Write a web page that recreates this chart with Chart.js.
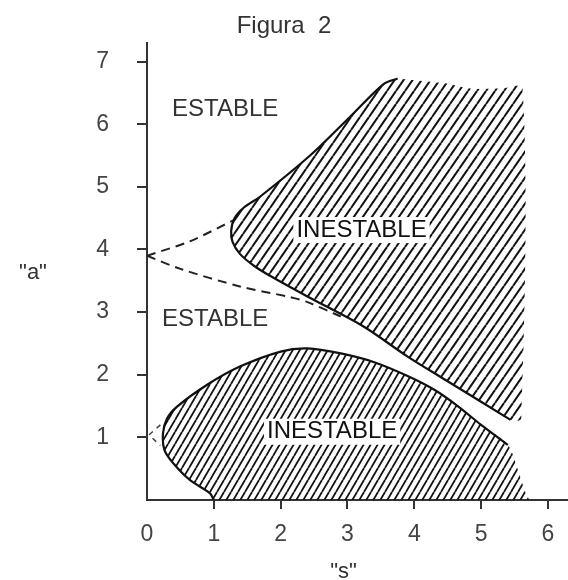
<!DOCTYPE html>
<html>
<head>
<meta charset="utf-8">
<script src="https://cdn.jsdelivr.net/npm/chart.js@4.4.0/dist/chart.umd.min.js"></script>
<style>
  html, body { margin: 0; padding: 0; background: #fff; }
</style>
</head>
<body>
<canvas id="myChart" width="568" height="580"></canvas>
<script>
// axis ticks (the a axis has no 0 label)
const sTicks = [0, 1, 2, 3, 4, 5, 6];
const aTicks = [1, 2, 3, 4, 5, 6, 7];

// upper unstable zone: slanted edge down to the nose, lower edge, then right and top sides
const upperZoneS = [3.75, 3.54, 3.04, 2.44, 1.7, 1.45, 1.31, 1.26, 1.28, 1.39, 1.6, 1.84, 2.4, 3.24, 3.9, 4.4, 5.44, 5.6, 5.62, 5.29, 4.84, 4.49];
const upperZoneA = [6.73, 6.64, 6.12, 5.5, 4.85, 4.67, 4.5, 4.3, 4.12, 3.93, 3.74, 3.58, 3.25, 2.77, 2.29, 1.96, 1.28, 1.3, 6.57, 6.57, 6.57, 6.65];
const upperEdgeCount = 17;

// lower unstable zone: from (1,0) round the nose, over the hump, down to the axis
const lowerZoneS = [1.0, 0.94, 0.64, 0.39, 0.26, 0.24, 0.3, 0.45, 0.9, 1.39, 2.0, 2.4, 2.9, 3.4, 3.9, 4.3, 4.65, 5.0, 5.4, 5.55, 5.65, 5.72];
const lowerZoneA = [0, 0.11, 0.32, 0.59, 0.8, 1.07, 1.3, 1.49, 1.84, 2.13, 2.37, 2.42, 2.34, 2.2, 1.98, 1.76, 1.5, 1.2, 0.88, 0.48, 0.16, 0];
const lowerEdgeCount = 19;

// dashed branches
const dashTopS = [0, 0.64, 1.3];
const dashTopA = [3.9, 4.13, 4.47];
const dashLowS = [0, 0.5, 1.39, 2.14, 2.4, 2.9];
const dashLowA = [3.9, 3.69, 3.41, 3.24, 3.16, 2.93];
const dashSmallS = [0.2, 0.03, 0.2];
const dashSmallA = [1.2, 1.04, 0.87];

// zone names
const zoneNames = ['ESTABLE', 'ESTABLE', 'INESTABLE', 'INESTABLE'];
const zoneS = [1.17, 1.02, 3.21, 2.77];
const zoneA = [6.24, 2.88, 4.31, 1.09];

const FONT = '"Liberation Sans", Arial, sans-serif';
Chart.defaults.font.family = FONT;

const pts = (xs, ys) => xs.map((x, i) => ({ x: x, y: ys[i] }));

var ctx = document.getElementById('myChart').getContext('2d');

// diagonal hatching, w x h tile gives the slant
function hatch(w, h, lw) {
  const c = document.createElement('canvas');
  c.width = w; c.height = h;
  const g = c.getContext('2d');
  g.strokeStyle = '#111';
  g.lineWidth = lw;
  for (const dx of [-w, 0, w]) {
    g.beginPath();
    g.moveTo(dx, h);
    g.lineTo(dx + w, 0);
    g.stroke();
  }
  return ctx.createPattern(c, 'repeat');
}

const noLine = 'rgba(0,0,0,0)';
const tickColor = c => (c.tick && c.tick.value === 0) ? noLine : '#333';

const zoneLabels = {
  id: 'zoneLabels',
  afterDatasetsDraw(chart) {
    const { ctx, chartArea, scales: { x, y } } = chart;
    ctx.save();
    ctx.textAlign = 'center';
    ctx.textBaseline = 'middle';
    ctx.font = '24px ' + FONT;
    zoneNames.forEach((t, i) => {
      const px = x.getPixelForValue(zoneS[i]);
      const py = y.getPixelForValue(zoneA[i]);
      if (t === 'INESTABLE') {
        const w = ctx.measureText(t).width + 6;
        ctx.fillStyle = '#fff';
        ctx.fillRect(px - w / 2, py - 13, w, 26);
        ctx.fillStyle = '#111';
      } else {
        ctx.fillStyle = '#333';
      }
      ctx.fillText(t, px, py);
    });
    // axis names
    ctx.fillStyle = '#333';
    ctx.font = '22px ' + FONT;
    ctx.fillText('"a"', chartArea.left - 114, y.getPixelForValue(3.63));
    ctx.fillText('"s"', x.getPixelForValue(2.94), chartArea.bottom + 72);
    ctx.restore();
  }
};

var chart = new Chart(ctx, {
  type: 'line',
  data: {
    datasets: [
      {
        label: 'upper zone',
        data: pts(upperZoneS, upperZoneA),
        backgroundColor: hatch(9, 13, 2),
        borderColor: noLine,
        borderWidth: 0,
        fill: 'shape',
        tension: 0.3
      },
      {
        label: 'lower zone',
        data: pts(lowerZoneS, lowerZoneA),
        backgroundColor: hatch(7, 12, 1.8),
        borderColor: noLine,
        borderWidth: 0,
        fill: 'shape',
        tension: 0.3
      },
      {
        label: 'upper edge',
        data: pts(upperZoneS.slice(0, upperEdgeCount), upperZoneA.slice(0, upperEdgeCount)),
        borderColor: '#111',
        borderWidth: 2.2,
        fill: false,
        tension: 0.3
      },
      {
        label: 'lower edge',
        data: pts(lowerZoneS.slice(0, lowerEdgeCount), lowerZoneA.slice(0, lowerEdgeCount)),
        borderColor: '#111',
        borderWidth: 2.2,
        fill: false,
        tension: 0.3
      },
      {
        label: 'dash top',
        data: pts(dashTopS, dashTopA),
        borderColor: '#222',
        borderWidth: 2,
        borderDash: [9, 6],
        fill: false,
        tension: 0.3
      },
      {
        label: 'dash low',
        data: pts(dashLowS, dashLowA),
        borderColor: '#222',
        borderWidth: 2,
        borderDash: [9, 6],
        fill: false,
        tension: 0.3
      },
      {
        label: 'dash small',
        data: pts(dashSmallS, dashSmallA),
        borderColor: '#444',
        borderWidth: 1.5,
        borderDash: [5, 5],
        fill: false,
        tension: 0
      }
    ]
  },
  options: {
    responsive: false,
    animation: false,
    devicePixelRatio: 1,
    layout: { padding: 0 },
    elements: { point: { radius: 0, hoverRadius: 0 } },
    plugins: {
      legend: { display: false },
      tooltip: { enabled: false },
      title: {
        display: true,
        text: 'Figura  2',
        color: '#333',
        font: { size: 24, weight: 'normal' },
        padding: { top: 12, bottom: 2 }
      }
    },
    scales: {
      x: {
        type: 'linear',
        min: 0,
        max: 6.3,
        afterBuildTicks: s => { s.ticks = sTicks.map(v => ({ value: v })); },
        afterFit: s => { s.height = 80; },
        border: { color: '#333', width: 2 },
        grid: { drawOnChartArea: false, tickLength: 9, lineWidth: 2, color: tickColor },
        ticks: { color: '#444', font: { size: 23 }, padding: 12, maxRotation: 0, includeBounds: false }
      },
      y: {
        type: 'linear',
        min: 0,
        max: 7.3,
        afterBuildTicks: s => { s.ticks = aTicks.map(v => ({ value: v })); },
        afterFit: s => { s.width = 147; },
        border: { color: '#333', width: 2 },
        grid: { drawOnChartArea: false, tickLength: 10, lineWidth: 2, color: tickColor },
        ticks: { color: '#444', font: { size: 23 }, padding: 28, includeBounds: false }
      }
    }
  },
  plugins: [zoneLabels]
});
</script>
</body>
</html>
